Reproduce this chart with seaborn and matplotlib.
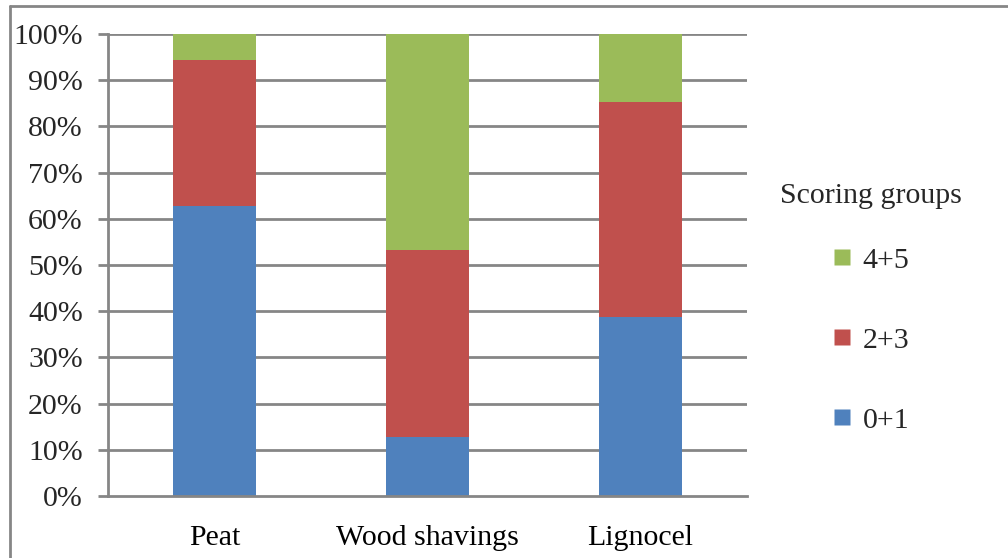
import matplotlib
matplotlib.use("Agg")
import matplotlib.pyplot as plt
import numpy as np
import pandas as pd
import seaborn as sns
from matplotlib.lines import Line2D
from matplotlib.ticker import MultipleLocator, FuncFormatter

sns.set_theme(style="white")
plt.rcParams['font.family'] = ['Liberation Serif', 'DejaVu Serif']

# data (share of animals per scoring group)
beddings = ["Peat", "Wood shavings", "Lignocel"]
group_01 = [0.628, 0.127, 0.387]
group_23 = [0.316, 0.406, 0.466]
group_45 = [0.056, 0.467, 0.147]
groups = ["0+1", "2+3", "4+5"]
colors = {"0+1": "#4F81BD", "2+3": "#C0504D", "4+5": "#9BBB59"}

df = pd.DataFrame({"bedding": beddings, "0+1": group_01, "2+3": group_23, "4+5": group_45})
df["c01"] = df["0+1"]
df["c23"] = df["0+1"] + df["2+3"]
df["c45"] = df["c23"] + df["4+5"]

fig = plt.figure(figsize=(10.08, 5.58), dpi=100)
ax = fig.add_axes([0.107, 0.111, 0.634, 0.828])

grid_col = "#868686"
for y in np.arange(0.1, 1.01, 0.1):
    ax.axhline(y, color=grid_col, lw=2, zorder=0)

# stacked bars: draw totals first, then smaller cumulative sums on top
for col, g in [("c45", "4+5"), ("c23", "2+3"), ("c01", "0+1")]:
    sns.barplot(data=df, x="bedding", y=col, color=colors[g], width=0.39,
                saturation=1, ax=ax, zorder=2, linewidth=0)

ax.set_xlim(-0.5, 2.5)
ax.set_ylim(0, 1)
ax.yaxis.set_major_locator(MultipleLocator(0.1))
ax.yaxis.set_major_formatter(FuncFormatter(lambda v, p: f"{v*100:.0f}%"))
ax.set_xlabel("")
ax.set_ylabel("")

for s in ["top", "right"]:
    ax.spines[s].set_visible(False)
for s in ["left", "bottom"]:
    ax.spines[s].set_color(grid_col)
    ax.spines[s].set_linewidth(2)

ax.set_xticks([0, 1, 2])
ax.set_xticks([-0.5, 0.5, 1.5, 2.5], minor=True)
ax.tick_params(axis="x", which="major", length=0, labelsize=21.5, pad=21, colors="black")
ax.tick_params(axis="x", which="minor", length=10, width=2, color=grid_col, direction="out")
ax.tick_params(axis="y", length=7, width=2, color=grid_col, direction="out",
               labelsize=21.5, pad=11, left=True)

handles = [Line2D([0], [0], marker="s", color="none", markerfacecolor=colors[g],
                  markeredgecolor="none", markersize=11) for g in ["4+5", "2+3", "0+1"]]
leg = ax.legend(handles, ["4+5", "2+3", "0+1"], title="Scoring groups",
                loc="upper left", bbox_to_anchor=(1.01, 0.735), frameon=False,
                fontsize=21.5, title_fontsize=21.5, labelspacing=1.78,
                handlelength=0.6, handletextpad=0.4)
leg._legend_box.sep = 27

# outer chart frame (clipped at right and bottom in the original)
fig.add_artist(Line2D([10 / 1008, 1.0], [1 - 6 / 558, 1 - 6 / 558], color=grid_col, lw=2))
fig.add_artist(Line2D([10 / 1008, 10 / 1008], [0.0, 1 - 6 / 558], color=grid_col, lw=2))

fig.savefig("out.png", dpi=100)
